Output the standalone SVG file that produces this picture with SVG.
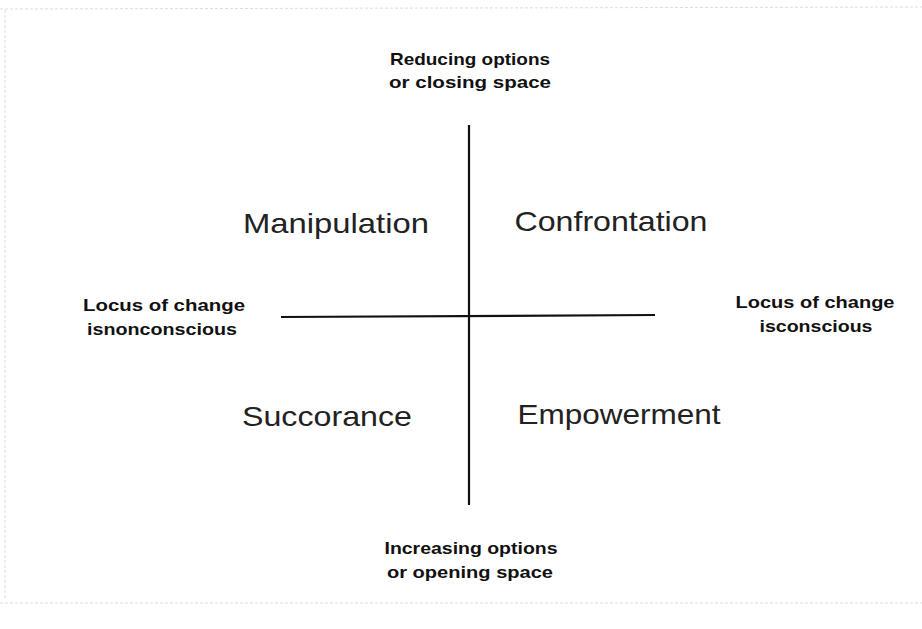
<svg xmlns="http://www.w3.org/2000/svg" width="922" height="629" viewBox="0 0 922 629">
<style>
.axis{stroke:#111;stroke-width:2.2;fill:none}
.q{font-family:"Liberation Sans",Arial,sans-serif;font-size:28px;fill:#222;text-anchor:middle}
.l{font-family:"Liberation Sans",Arial,sans-serif;font-size:17px;font-weight:bold;fill:#111;text-anchor:middle}
.edge{stroke:#ddd;stroke-width:1;stroke-dasharray:3 2;fill:none}
</style>
<rect width="922" height="629" fill="#fff"/>
<g id="page-edge">
<line class="edge" x1="0" y1="9" x2="922" y2="7"/>
<line class="edge" x1="0" y1="603" x2="922" y2="603"/>
<line class="edge" x1="5" y1="10" x2="5" y2="600"/>
</g>
<g id="connectors">
<line class="axis" x1="469" y1="125" x2="469" y2="505"/>
<line class="axis" x1="281" y1="317" x2="655" y2="315"/>
</g>
<g id="top"><text class="l" x="470" y="65" textLength="160" lengthAdjust="spacingAndGlyphs">Reducing options</text><text class="l" x="470" y="88" textLength="162" lengthAdjust="spacingAndGlyphs">or closing space</text></g>
<g id="bottom"><text class="l" x="471" y="554" textLength="173" lengthAdjust="spacingAndGlyphs">Increasing options</text><text class="l" x="470" y="578" textLength="166" lengthAdjust="spacingAndGlyphs">or opening space</text></g>
<g id="left"><text class="l" x="164" y="311" textLength="162" lengthAdjust="spacingAndGlyphs">Locus of change</text><text class="l" x="162" y="335" textLength="150" lengthAdjust="spacingAndGlyphs">isnonconscious</text></g>
<g id="right"><text class="l" x="815" y="308" textLength="159" lengthAdjust="spacingAndGlyphs">Locus of change</text><text class="l" x="816" y="332" textLength="113" lengthAdjust="spacingAndGlyphs">isconscious</text></g>
<g id="manipulation"><text class="q" x="336" y="233" textLength="186" lengthAdjust="spacingAndGlyphs">Manipulation</text></g>
<g id="confrontation"><text class="q" x="611" y="231" textLength="193" lengthAdjust="spacingAndGlyphs">Confrontation</text></g>
<g id="succorance"><text class="q" x="327" y="426" textLength="170" lengthAdjust="spacingAndGlyphs">Succorance</text></g>
<g id="empowerment"><text class="q" x="619" y="424" textLength="203" lengthAdjust="spacingAndGlyphs">Empowerment</text></g>
</svg>
